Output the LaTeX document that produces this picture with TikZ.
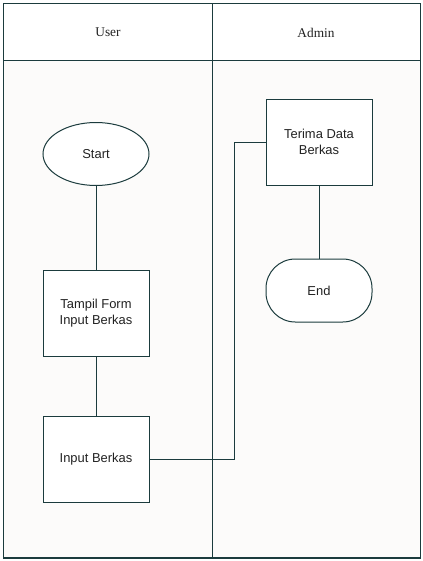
\documentclass[tikz,border=0pt]{standalone}
\usepackage{fontspec}
\setmainfont{Liberation Serif}
\setsansfont{Liberation Sans}
\usetikzlibrary{shapes.geometric}
\definecolor{ln}{HTML}{1B3B3D}
\definecolor{lanebg}{HTML}{FCFBFA}
\definecolor{txt}{HTML}{222222}
\tikzset{
  frame/.style={draw=ln, line width=0.8pt},
  proc/.style={draw=ln, line width=0.75pt, fill=white, rectangle, minimum width=106*0.75pt, minimum height=86*0.75pt, inner sep=0pt, align=center, font=\sffamily\fontsize{9.7}{12}\selectfont, text=txt},
  term/.style={draw=ln, line width=0.75pt, fill=white, ellipse, minimum width=106*0.75pt, minimum height=63*0.75pt, inner sep=0pt, font=\sffamily\fontsize{9.7}{12}\selectfont, text=txt},
  endterm/.style={draw=ln, line width=0.75pt, fill=white, rectangle, rounded corners=22pt, minimum width=106*0.75pt, minimum height=63*0.75pt, inner sep=0pt, font=\sffamily\fontsize{9.7}{12}\selectfont, text=txt},
  head/.style={font=\fontsize{10}{12}\selectfont, text=txt},
  conn/.style={draw=ln, line width=0.75pt}
}
\begin{document}
\begin{tikzpicture}[x=0.75pt, y=-0.75pt]
\useasboundingbox (0,0) rectangle (423,561);
\fill[white] (0,0) rectangle (423,561);
\fill[lanebg] (3.5,60.5) rectangle (420.5,558);
\draw[frame] (3.5,3.5) rectangle (420.5,558);
\draw[frame] (3.5,60.5) -- (420.5,60.5);
\draw[frame] (212.5,3.5) -- (212.5,558);
\node[head] (huser) at (108,32.5) {User};
\node[head] (hadmin) at (316,32.5) {Admin};

\node[term] (start) at (96,154) {Start};
\node[proc] (tampil) at (96,313) {Tampil Form\\Input Berkas};
\node[proc] (input) at (96,459) {Input Berkas};
\node[proc] (terima) at (319,142) {Terima Data\\Berkas};
\node[endterm] (end) at (319,290.5) {End};
\coordinate (c1) at (234,459);
\coordinate (c2) at (234,142);

\draw[conn] (start) -- (tampil);
\draw[conn] (tampil) -- (input);
\draw[conn] (input.east) -- (c1) -- (c2) -- (terima.west);
\draw[conn] (terima) -- (end);
\end{tikzpicture}
\end{document}
